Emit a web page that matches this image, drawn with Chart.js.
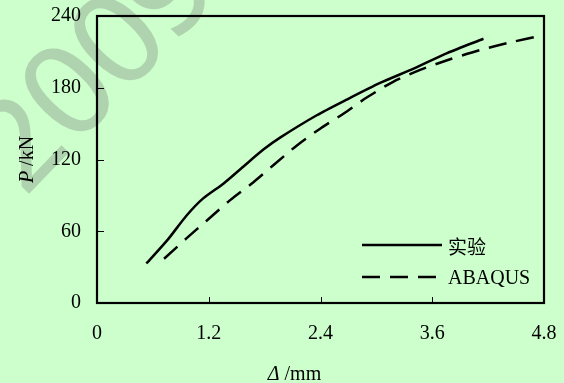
<!DOCTYPE html>
<html>
<head>
<meta charset="utf-8">
<script src="https://cdn.jsdelivr.net/npm/chart.js@4.4.1/dist/chart.umd.min.js"></script>
<style>
html,body{margin:0;padding:0;background:#ccffcc;}
#wrap{width:564px;height:383px;}
</style>
</head>
<body>
<div id="wrap"><canvas id="c" width="564" height="383"></canvas></div>
<script>
// Data
const seriesNames = ['实验', 'ABAQUS'];
const testX = [0.53, 0.76, 0.96, 1.14, 1.36, 1.57, 1.79, 1.97, 2.36, 2.68, 3.04, 3.40, 3.76, 4.15];
const testY = [33, 53, 73, 87.5, 100, 114, 128.5, 138.5, 157, 170, 184, 196, 209, 221];
const abaqusX = [0.72, 0.96, 1.18, 1.43, 1.68, 1.89, 2.15, 2.40, 2.65, 2.90, 3.18, 3.47, 3.76, 4.11, 4.47, 4.76];
const abaqusY = [37, 54, 69, 86, 101, 115, 132, 146, 158.5, 172, 185, 195, 203, 211.5, 218.5, 223.5];
const xTickLabels = ['0', '1.2', '2.4', '3.6', '4.8'];
const yTickLabels = ['0', '60', '120', '180', '240'];
const xTitle = ['Δ', ' /mm'];
const yTitle = ['P', ' /kN'];
const watermark = '2009';

const serif = '"Liberation Serif", "Times New Roman", serif';
const cjk = '"Noto Sans CJK SC", sans-serif';

const bgPlugin = {
  id: 'bg',
  beforeDraw(chart) {
    const ctx = chart.ctx;
    ctx.save();
    ctx.fillStyle = '#ccffcc';
    ctx.fillRect(0, 0, chart.width, chart.height);
    // watermark
    ctx.translate(98, 76);
    ctx.rotate(-46 * Math.PI / 180);
    ctx.font = '124px "DejaVu Sans", "Liberation Sans", sans-serif';
    try { ctx.letterSpacing = '-8px'; } catch (e) {}
    ctx.fillStyle = 'rgba(115,115,115,0.32)';
    ctx.textAlign = 'center';
    ctx.textBaseline = 'middle';
    ctx.fillText(watermark, 0, 0);
    ctx.restore();
  }
};

const framePlugin = {
  id: 'frame',
  afterDraw(chart) {
    const ctx = chart.ctx;
    const a = chart.chartArea;
    const xs = chart.scales.x, ys = chart.scales.y;
    ctx.save();
    ctx.strokeStyle = '#000';
    // inward ticks
    ctx.lineWidth = 1;
    ctx.beginPath();
    xs.ticks.forEach(t => {
      if (t.value <= xs.min + 1e-9 || t.value >= xs.max - 1e-9) return;
      const px = Math.round(xs.getPixelForValue(t.value)) + 0.5;
      ctx.moveTo(px, a.bottom);
      ctx.lineTo(px, a.bottom - 6);
    });
    ys.ticks.forEach(t => {
      if (t.value <= ys.min + 1e-9 || t.value >= ys.max - 1e-9) return;
      const py = Math.round(ys.getPixelForValue(t.value)) + 0.5;
      ctx.moveTo(a.left, py);
      ctx.lineTo(a.left + 7, py);
    });
    ctx.stroke();
    // frame
    ctx.lineWidth = 2.2;
    ctx.strokeRect(a.left, a.top, a.right - a.left, a.bottom - a.top);

    // legend
    const ds = chart.data.datasets;
    const lx0 = a.right - 182, lx1 = a.right - 102, tx = a.right - 96;
    const rows = [a.bottom - 58, a.bottom - 26];
    ds.forEach((d, i) => {
      ctx.lineWidth = d.borderWidth;
      ctx.setLineDash(d.borderDash || []);
      ctx.beginPath();
      ctx.moveTo(lx0, rows[i]);
      ctx.lineTo(i === 0 ? lx1 : lx1 - 4, rows[i]);
      ctx.stroke();
      ctx.setLineDash([]);
      ctx.fillStyle = '#000';
      ctx.textBaseline = 'middle';
      ctx.textAlign = 'left';
      ctx.font = i === 0 ? '19px ' + cjk : '20px ' + serif;
      ctx.fillText(d.label, tx, rows[i] + 2);
    });

    // x axis title
    ctx.textBaseline = 'alphabetic';
    ctx.font = 'italic 20px ' + serif;
    const w1 = ctx.measureText(xTitle[0]).width;
    ctx.font = '20px ' + serif;
    const w2 = ctx.measureText(xTitle[1]).width;
    const cx = (a.left + a.right) / 2 - 26;
    let sx = cx - (w1 + w2) / 2;
    ctx.font = 'italic 20px ' + serif;
    ctx.fillText(xTitle[0], sx, 380);
    ctx.font = '20px ' + serif;
    ctx.fillText(xTitle[1], sx + w1, 380);

    // y axis title
    ctx.save();
    ctx.translate(33, (a.top + a.bottom) / 2);
    ctx.rotate(-Math.PI / 2);
    ctx.font = 'italic 20px ' + serif;
    const v1 = ctx.measureText(yTitle[0]).width;
    ctx.font = '20px ' + serif;
    const v2 = ctx.measureText(yTitle[1]).width;
    let sy = -(v1 + v2) / 2;
    ctx.font = 'italic 20px ' + serif;
    ctx.fillText(yTitle[0], sy, 0);
    ctx.font = '20px ' + serif;
    ctx.fillText(yTitle[1], sy + v1, 0);
    ctx.restore();
    ctx.restore();
  }
};

const toPts = (xs, ys) => xs.map((x, i) => ({x: x, y: ys[i]}));

new Chart(document.getElementById('c'), {
  type: 'line',
  data: {
    datasets: [
      {label: seriesNames[0], data: toPts(testX, testY), borderColor: '#000', borderWidth: 2.5, pointRadius: 0, fill: false, tension: 0.25},
      {label: seriesNames[1], data: toPts(abaqusX, abaqusY), borderColor: '#000', borderWidth: 2.5, borderDash: [18, 10], pointRadius: 0, fill: false, tension: 0.25}
    ]
  },
  options: {
    responsive: false,
    animation: false,
    devicePixelRatio: 1,
    layout: {padding: {top: 16, right: 20, left: 0, bottom: 0}},
    plugins: {legend: {display: false}, tooltip: {enabled: false}},
    scales: {
      x: {
        type: 'linear', min: 0, max: 4.8,
        afterBuildTicks(s) { s.ticks = xTickLabels.map(v => ({value: parseFloat(v)})); },
        ticks: {callback: (v, i) => xTickLabels[i], color: '#000', font: {family: serif, size: 20}, padding: 19, maxRotation: 0, autoSkip: false},
        grid: {display: false, drawTicks: false},
        border: {display: false},
        afterFit(s) { s.height = 80; s.paddingLeft = 0; s.paddingRight = 0; }
      },
      y: {
        type: 'linear', min: 0, max: 240,
        afterBuildTicks(s) { s.ticks = yTickLabels.map(v => ({value: parseFloat(v)})); },
        ticks: {callback: (v, i) => yTickLabels[i], color: '#000', font: {family: serif, size: 20}, padding: 16, autoSkip: false},
        grid: {display: false, drawTicks: false},
        border: {display: false},
        afterFit(s) { s.width = 97; s.paddingTop = 0; s.paddingBottom = 0; }
      }
    }
  },
  plugins: [bgPlugin, framePlugin]
});
</script>
</body>
</html>
